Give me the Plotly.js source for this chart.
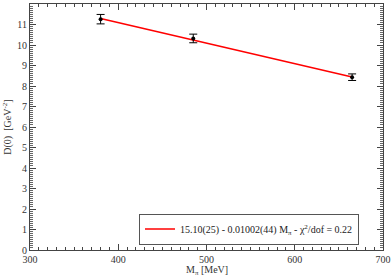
<!DOCTYPE html>
<html>
<head>
<meta charset="utf-8">
<script src="https://cdn.plot.ly/plotly-3.0.1.min.js"></script>
<style>html,body{margin:0;padding:0;background:#fff;}#chart{width:392px;height:277px;}</style>
</head>
<body>
<div id="chart"></div>
<script>
const massPi = [380, 485, 665];
const d0 = [11.26, 10.32, 8.43];
const d0Err = [0.23, 0.21, 0.16];
const fitX = [380, 665];
const fitY = [11.29, 8.44];
const fitLabel = "15.10(25) - 0.01002(44) M<sub>π</sub> - χ<sup>2</sup>/dof = 0.22";

const axisCommon = {
  showgrid: false, zeroline: false, showline: true, linecolor: '#444', linewidth: 1,
  mirror: 'ticks', ticks: 'inside', ticklen: 6, tickcolor: '#444', tickwidth: 1,
  tickfont: {family: 'Liberation Serif, serif', size: 10, color: '#333'}
};

const traces = [
  {
    x: fitX, y: fitY, mode: 'lines', type: 'scatter', name: fitLabel,
    line: {color: '#ff0000', width: 1.5}, showlegend: true, hoverinfo: 'skip'
  },
  {
    x: massPi, y: d0, mode: 'markers', type: 'scatter', showlegend: false,
    marker: {color: '#000', size: 4, symbol: 'circle'},
    error_y: {type: 'data', array: d0Err, visible: true, color: '#000', thickness: 1, width: 4}
  }
];

const layout = {
  width: 392, height: 277,
  margin: {l: 30, r: 9, t: 4, b: 27},
  paper_bgcolor: '#fff', plot_bgcolor: '#fff',
  font: {family: 'Liberation Serif, serif', size: 10, color: '#333'},
  xaxis: Object.assign({}, axisCommon, {
    range: [300, 700], dtick: 100, tick0: 300,
    minor: {dtick: 10, ticks: 'inside', ticklen: 3, tickcolor: '#444', showgrid: false}
  }),
  yaxis: Object.assign({}, axisCommon, {
    range: [0, 12], dtick: 1, tick0: 0,
    minor: {dtick: 0.1, ticks: 'inside', ticklen: 3, tickcolor: '#666', showgrid: false}
  }),
  showlegend: true,
  legend: {
    x: 0.932, y: 0.022, xanchor: 'right', yanchor: 'bottom',
    bordercolor: '#555', borderwidth: 1, bgcolor: '#fff', itemwidth: 30,
    font: {family: 'Liberation Serif, serif', size: 10, color: '#222'}
  },
  annotations: [
    {text: 'M<sub>π</sub> [MeV]', xref: 'paper', yref: 'paper', x: 0.5, y: -0.113,
     xanchor: 'center', yanchor: 'bottom', showarrow: false, borderpad: 0,
     font: {family: 'Liberation Serif, serif', size: 10, color: '#333'}},
    {text: 'D(0)  [GeV<sup>-2</sup>]', xref: 'paper', yref: 'paper', x: -0.066, y: 0.5,
     xanchor: 'center', yanchor: 'middle', textangle: -90, showarrow: false,
     font: {family: 'Liberation Serif, serif', size: 10, color: '#333'}}
  ]
};

Plotly.newPlot('chart', traces, layout, {displayModeBar: false, staticPlot: true});
</script>
</body>
</html>
